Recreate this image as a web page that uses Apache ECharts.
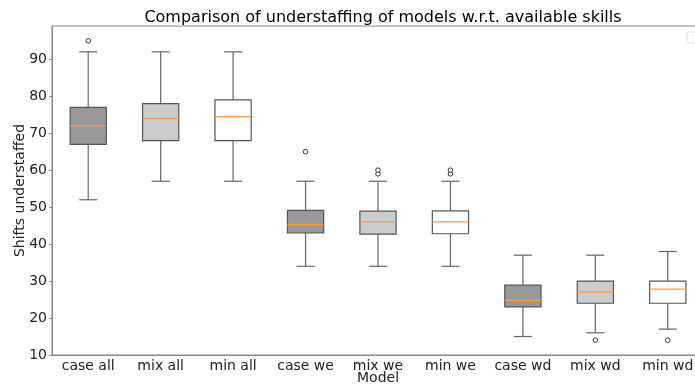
<!DOCTYPE html>
<html>
<head>
<meta charset="utf-8">
<script src="https://cdn.jsdelivr.net/npm/echarts@6/dist/echarts.min.js"></script>
<style>
  html, body { margin: 0; padding: 0; background: #fff; }
  #chart { width: 695px; height: 387px; }
</style>
</head>
<body>
<div id="chart"></div>
<script>
// box statistics
const categories = ['case all', 'mix all', 'min all', 'case we', 'mix we', 'min we', 'case wd', 'mix wd', 'min wd'];
const lowerWhisker = [52, 57, 57, 34, 34, 34, 15, 16, 17];
const q1 = [67, 68, 68, 43, 42.7, 42.8, 23, 24, 24];
const median = [72, 74, 74.5, 45.3, 46, 46, 24.8, 27, 27.8];
const q3 = [77, 78, 79, 49.1, 48.9, 49, 28.9, 30, 30];
const upperWhisker = [92, 92, 92, 57, 57, 57, 37, 37, 38];
// [category index, value]
const outliers = [[0, 95], [3, 65], [4, 59], [4, 60], [5, 59], [5, 60], [7, 14], [8, 14]];
const yTicks = [10, 20, 30, 40, 50, 60, 70, 80, 90];

const fills = ['#999999', '#cccccc', '#ffffff'];

const chart = echarts.init(document.getElementById('chart'));

const boxData = categories.map((c, i) => [i, lowerWhisker[i], q1[i], median[i], q3[i], upperWhisker[i]]);

function renderBox(params, api) {
  const i = api.value(0);
  const lo = api.coord([i, api.value(1)]);
  const b1 = api.coord([i, api.value(2)]);
  const md = api.coord([i, api.value(3)]);
  const b3 = api.coord([i, api.value(4)]);
  const hi = api.coord([i, api.value(5)]);
  const band = api.size([1, 0])[0];
  const bw = band * 0.5;
  const cw = band * 0.25;
  const x = lo[0];
  const edge = '#555555';
  const whisk = '#666666';
  return {
    type: 'group',
    children: [
      { type: 'line', shape: { x1: x, y1: b1[1], x2: x, y2: lo[1] }, style: { stroke: whisk, lineWidth: 1.2 } },
      { type: 'line', shape: { x1: x, y1: b3[1], x2: x, y2: hi[1] }, style: { stroke: whisk, lineWidth: 1.2 } },
      { type: 'line', shape: { x1: x - cw / 2, y1: lo[1], x2: x + cw / 2, y2: lo[1] }, style: { stroke: whisk, lineWidth: 1.2 } },
      { type: 'line', shape: { x1: x - cw / 2, y1: hi[1], x2: x + cw / 2, y2: hi[1] }, style: { stroke: whisk, lineWidth: 1.2 } },
      { type: 'rect', shape: { x: x - bw / 2, y: b3[1], width: bw, height: b1[1] - b3[1] },
        style: { fill: fills[i % 3], stroke: edge, lineWidth: 1.2 } },
      { type: 'line', shape: { x1: x - bw / 2, y1: md[1], x2: x + bw / 2, y2: md[1] }, style: { stroke: '#ff9a3c', lineWidth: 1.3 } }
    ]
  };
}

function renderOutlier(params, api) {
  const p = api.coord([api.value(0), api.value(1)]);
  return {
    type: 'circle',
    shape: { cx: p[0], cy: p[1], r: 2.3 },
    style: { fill: '#fff', stroke: '#333', lineWidth: 1 }
  };
}

chart.setOption({
  animation: false,
  title: {
    text: 'Comparison of understaffing of models w.r.t. available skills',
    left: 378, top: 5, textAlign: 'center',
    textStyle: { fontFamily: 'DejaVu Sans', fontSize: 16, fontWeight: 'normal', color: '#000' }
  },
  grid: {
    left: 52, top: 26, width: 652, height: 329,
    outerBoundsMode: 'none', containLabel: false,
    show: true, borderColor: '#888', borderWidth: 1
  },
  xAxis: {
    type: 'category',
    data: categories,
    boundaryGap: true,
    name: 'Model',
    nameLocation: 'middle',
    nameGap: 16,
    nameMoveOverlap: false,
    nameTextStyle: { fontFamily: 'DejaVu Sans', fontSize: 14, color: '#222' },
    axisLine: { lineStyle: { color: '#888' } },
    axisTick: { alignWithLabel: true, length: 3, lineStyle: { color: '#888' } },
    axisLabel: { interval: 0, hideOverlap: false, fontFamily: 'DejaVu Sans', fontSize: 14, color: '#222', margin: 4 },
    splitLine: { show: false }
  },
  yAxis: {
    type: 'value',
    min: 10, max: 99, interval: 10,
    name: 'Shifts understaffed',
    nameLocation: 'middle',
    nameGap: 25,
    nameMoveOverlap: false,
    nameTextStyle: { fontFamily: 'DejaVu Sans', fontSize: 14, color: '#222' },
    axisLine: { show: true, lineStyle: { color: '#888' } },
    axisTick: { show: true, length: 3, lineStyle: { color: '#888' } },
    axisLabel: {
      fontFamily: 'DejaVu Sans', fontSize: 14, color: '#222', margin: 5,
      showMaxLabel: false,
      formatter: v => (yTicks.indexOf(v) >= 0 ? String(v) : '')
    },
    splitLine: { show: false }
  },
  graphic: [{
    type: 'rect', shape: { x: 687, y: 32, width: 14, height: 11, r: 2 },
    style: { fill: '#fff', stroke: '#ddd', lineWidth: 1 }
  }],
  series: [
    {
      type: 'custom',
      renderItem: renderBox,
      encode: { x: 0, y: [1, 2, 3, 4, 5] },
      data: boxData,
      z: 2
    },
    {
      type: 'custom',
      renderItem: renderOutlier,
      encode: { x: 0, y: 1 },
      data: outliers,
      z: 3
    }
  ]
});
</script>
</body>
</html>
